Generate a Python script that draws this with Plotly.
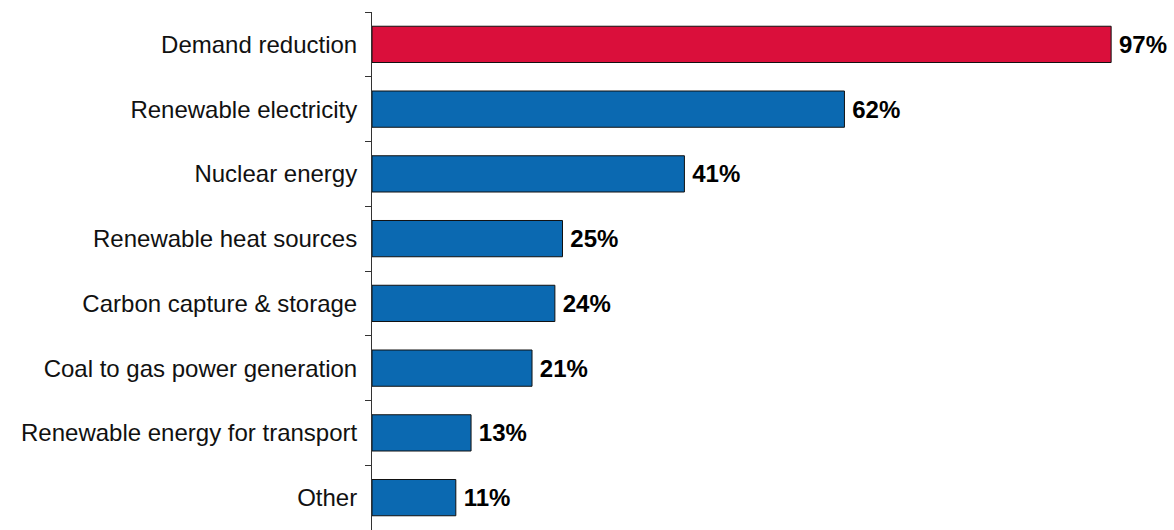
import plotly.graph_objects as go

# Survey results: share of respondents naming each decarbonisation lever
categories = [
    "Demand reduction",
    "Renewable electricity",
    "Nuclear energy",
    "Renewable heat sources",
    "Carbon capture & storage",
    "Coal to gas power generation",
    "Renewable energy for transport",
    "Other",
]
shares = [97, 62, 41, 25, 24, 21, 13, 11]

RED = "#DA0F3B"
BLUE = "#0B69B1"
bar_colors = [RED] + [BLUE] * (len(categories) - 1)

FONT = "Liberation Sans, Arial, sans-serif"

fig = go.Figure(
    go.Bar(
        x=shares,
        y=categories,
        orientation="h",
        marker=dict(color=bar_colors, line=dict(color="#111111", width=1)),
        texttemplate="\u2009%{x}%",
        textposition="outside",
        textfont=dict(family=FONT, size=24, color="#000000", weight="bold"),
        constraintext="none",
        cliponaxis=False,
        hoverinfo="skip",
    )
)

fig.update_layout(
    width=1174,
    height=530,
    margin=dict(l=372, r=40, t=12, b=0),
    paper_bgcolor="white",
    plot_bgcolor="white",
    bargap=0.44,
    showlegend=False,
    font=dict(family=FONT, size=24, color="#111111"),
)

fig.update_xaxes(range=[0, 100], visible=False, showgrid=False, zeroline=False)
fig.update_yaxes(
    autorange="reversed",
    showline=True,
    linecolor="#333333",
    linewidth=1,
    ticks="outside",
    tickson="boundaries",
    ticklen=6,
    tickcolor="#333333",
    tickwidth=1,
    ticklabelstandoff=9,
    showgrid=False,
    zeroline=False,
    tickfont=dict(family=FONT, size=24, color="#111111"),
)

fig.write_html("out.html")
